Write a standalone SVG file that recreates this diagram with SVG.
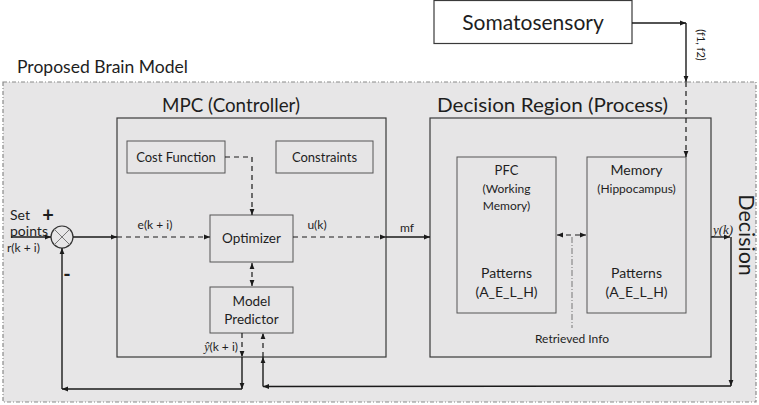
<svg xmlns="http://www.w3.org/2000/svg" width="759" height="405" viewBox="0 0 759 405">
<defs>
<marker id="ah" viewBox="0 0 10 10" refX="10" refY="5" markerWidth="6" markerHeight="6" orient="auto-start-reverse" markerUnits="userSpaceOnUse">
<path d="M0,1 L10,5 L0,9 Z" fill="#1a1a1a"/>
</marker>
</defs>
<style>
text{font-family:Lato,"Open Sans","Liberation Sans",sans-serif;fill:#1e1e1e}
.box{fill:#e6e5e6;stroke:#3a3a3a;stroke-width:1.2}
.sub{fill:#e6e5e6;stroke:#555;stroke-width:1}
.ln{fill:none;stroke:#1a1a1a;stroke-width:1.4}
.ds{fill:none;stroke:#1a1a1a;stroke-width:1.2;stroke-dasharray:5,4}
.dd{fill:none;stroke:#777;stroke-width:1;stroke-dasharray:6,2,1,2}
.c{text-anchor:middle}
.serif{font-family:"Liberation Serif",serif;font-style:italic}
</style>
<rect width="759" height="405" fill="#ffffff"/>
<g id="brain-model">
<rect x="3" y="82" width="753" height="320" fill="#e7e6e7" stroke="#8a8a8a" stroke-width="1.2" stroke-dasharray="4,2,1,2"/>
<text x="17" y="73" font-size="17.5" textLength="171" lengthAdjust="spacingAndGlyphs">Proposed Brain Model</text>
</g>
<g id="somatosensory">
<rect x="434" y="0.5" width="198" height="43" fill="#ffffff" stroke="#3a3a3a" stroke-width="1.2"/>
<text x="533" y="30" class="c" font-size="21">Somatosensory</text>
</g>
<g id="mpc">
<rect x="117" y="118" width="269" height="239" class="box"/>
<text x="162" y="112" font-size="19.5" textLength="138" lengthAdjust="spacingAndGlyphs">MPC (Controller)</text>
</g>
<g id="cost-function">
<rect x="127" y="141" width="98" height="32" class="sub"/>
<text x="176" y="162" class="c" font-size="13">Cost Function</text>
</g>
<g id="constraints">
<rect x="276" y="141" width="97" height="32" class="sub"/>
<text x="324.5" y="162" class="c" font-size="13">Constraints</text>
</g>
<g id="optimizer">
<rect x="210" y="215" width="83" height="47" class="sub"/>
<text x="251.5" y="243" class="c" font-size="13.5">Optimizer</text>
</g>
<g id="model-predictor">
<rect x="210" y="287" width="83" height="46" class="sub"/>
<text x="251.5" y="306" class="c" font-size="13.5">Model</text>
<text x="251.5" y="324" class="c" font-size="13.5">Predictor</text>
</g>
<g id="decision-region">
<rect x="430" y="118" width="281" height="239" class="box"/>
<text x="437" y="112" font-size="20" textLength="231" lengthAdjust="spacingAndGlyphs">Decision Region (Process)</text>
</g>
<g id="pfc">
<rect x="457" y="157" width="99" height="156" class="sub"/>
<text x="506.5" y="175" class="c" font-size="13">PFC</text>
<text x="506.5" y="193" class="c" font-size="12">(Working</text>
<text x="506.5" y="210" class="c" font-size="12">Memory)</text>
<text x="506.5" y="278" class="c" font-size="14">Patterns</text>
<text x="506.5" y="297" class="c" font-size="14">(A_E_L_H)</text>
</g>
<g id="memory">
<rect x="587" y="157" width="99" height="156" class="sub"/>
<text x="636.5" y="175" class="c" font-size="14">Memory</text>
<text x="636.5" y="193" class="c" font-size="12">(Hippocampus)</text>
<text x="636.5" y="278" class="c" font-size="14">Patterns</text>
<text x="636.5" y="297" class="c" font-size="14">(A_E_L_H)</text>
</g>
<g id="summing-junction">
<circle cx="62" cy="237" r="11" fill="#e7e6e7" stroke="#333" stroke-width="1.2"/>
<path d="M54.2,229.2 L69.8,244.8 M69.8,229.2 L54.2,244.8" stroke="#777" stroke-width="1"/>
<text x="48" y="222" class="c" font-size="20" font-weight="bold">+</text>
<text x="67" y="281" class="c" font-size="20" font-weight="bold">-</text>
</g>
<g id="labels">
<text x="10" y="220" font-size="14">Set</text>
<text x="10" y="236" font-size="14">points</text>
<text x="7" y="252" font-size="12">r(k + i)</text>
<text x="155" y="229" class="c" font-size="12">e(k + i)</text>
<text x="317" y="229" class="c" font-size="12">u(k)</text>
<text x="407" y="232" class="c" font-size="12">mf</text>
<text x="238" y="351" text-anchor="end" font-size="12"><tspan class="serif">ŷ</tspan>(k + i)</text>
<text x="723" y="234" class="c serif" font-size="13">y(k)</text>
<text x="572" y="343" class="c" font-size="12">Retrieved Info</text>
<text transform="translate(697,45) rotate(90)" class="c" font-size="11">(f1, f2)</text>
<text transform="translate(739,235) rotate(90)" class="c" font-size="21.5">Decision</text>
</g>
<g id="connectors">
<path d="M11,237 L51,237" class="ln" marker-end="url(#ah)"/>
<path d="M73,237 L117,237" class="ln" marker-end="url(#ah)"/>
<path d="M117,237 L210,237" class="ds" marker-end="url(#ah)"/>
<path d="M293,237 L386,237" class="ds" marker-end="url(#ah)"/>
<path d="M386,237 L430,237" class="ln" marker-end="url(#ah)"/>
<path d="M225,157 L252,157 L252,215" class="ds" marker-end="url(#ah)"/>
<path d="M252,263 L252,286" class="ds" marker-start="url(#ah)" marker-end="url(#ah)"/>
<path d="M632,23 L686,23" class="ln" marker-end="url(#ah)"/>
<path d="M686,23 L686,82" class="ln" marker-end="url(#ah)"/>
<path d="M686,82 L686,157" class="ds" marker-end="url(#ah)"/>
<path d="M557,235 L586,235" class="ds" stroke-dasharray="4,4" marker-start="url(#ah)" marker-end="url(#ah)"/>
<path d="M572,237 L572,328" class="dd"/>
<path d="M711,237 L730,237" class="ln" marker-end="url(#ah)"/>
<path d="M731,237 L731,386" class="ln" marker-end="url(#ah)"/>
<path d="M731,386 L263,386.5" class="ln" marker-end="url(#ah)"/>
<path d="M263,386.5 L263,357" class="ln" marker-end="url(#ah)"/>
<path d="M263,357 L263,333" class="ds" marker-end="url(#ah)"/>
<path d="M242,333 L242,357" class="ds" marker-end="url(#ah)"/>
<path d="M242,357 L242,389" class="ln" marker-end="url(#ah)"/>
<path d="M242,389 L62,389" class="ln" marker-end="url(#ah)"/>
<path d="M62,389 L62,248" class="ln" marker-end="url(#ah)"/>
</g>
</svg>
